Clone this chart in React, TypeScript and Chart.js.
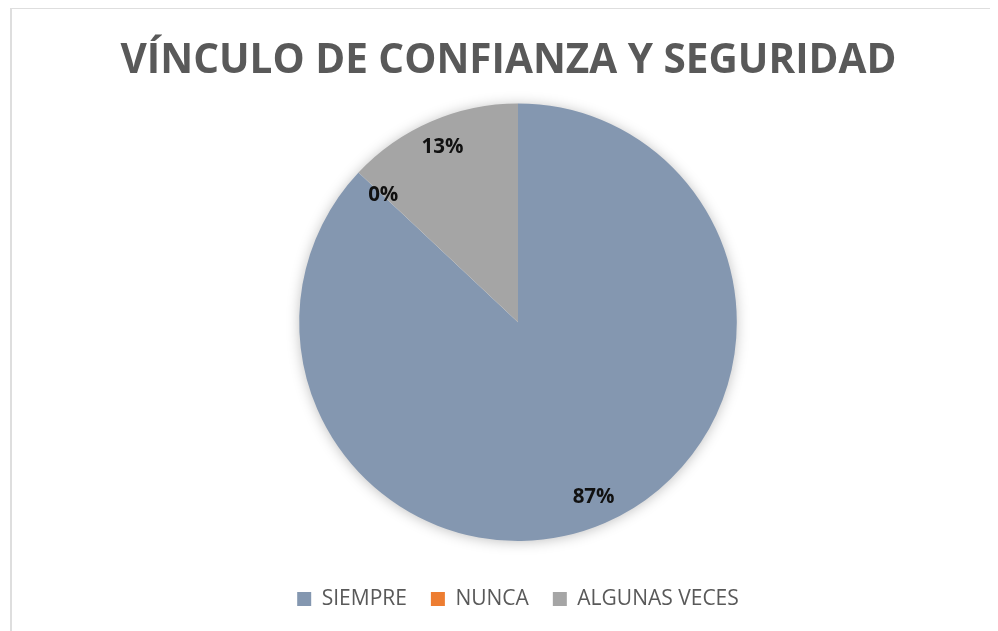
import React, { useEffect, useRef } from "react";
import { Chart, registerables } from "chart.js";

Chart.register(...registerables);

const TITLE = "VÍNCULO DE CONFIANZA Y SEGURIDAD";
const categories = ["SIEMPRE", "NUNCA", "ALGUNAS VECES"];
const values = [87, 0, 13];
const colors = ["#8497B0", "#ED7D31", "#A5A5A5"];

const shadowPlugin = {
  id: "pieShadow",
  beforeDatasetsDraw(chart: any) {
    const meta = chart.getDatasetMeta(0);
    const arc = meta.data[0];
    if (!arc) return;
    const { x, y, outerRadius } = arc.getProps(["x", "y", "outerRadius"], true);
    const ctx = chart.ctx;
    ctx.save();
    ctx.shadowColor = "rgba(0,0,0,0.28)";
    ctx.shadowBlur = 14;
    ctx.shadowOffsetX = 0;
    ctx.shadowOffsetY = 1;
    ctx.fillStyle = "#ffffff";
    ctx.beginPath();
    ctx.arc(x, y, outerRadius - 1, 0, Math.PI * 2);
    ctx.fill();
    ctx.restore();
  },
};

// Shift the title block so the title is centred on the whole chart area
const titleShiftPlugin = {
  id: "titleShift",
  afterLayout(chart: any) {
    const tb = chart.titleBlock;
    if (tb) {
      tb.left -= 9.5;
      tb.right -= 9.5;
    }
  },
};

const labelPlugin = {
  id: "pctLabels",
  afterDatasetsDraw(chart: any) {
    const meta = chart.getDatasetMeta(0);
    const data = chart.data.datasets[0].data as number[];
    const total = data.reduce((a, b) => a + b, 0);
    const ctx = chart.ctx;
    ctx.save();
    ctx.font = "bold 20.5px 'Open Sans'";
    ctx.fillStyle = "#111111";
    ctx.textAlign = "center";
    ctx.textBaseline = "middle";
    meta.data.forEach((arc: any, i: number) => {
      const { x, y, startAngle, endAngle, outerRadius } = arc.getProps(
        ["x", "y", "startAngle", "endAngle", "outerRadius"],
        true
      );
      const mid = (startAngle + endAngle) / 2;
      const f = data[i] === 0 ? 0.845 : 0.87;
      const px = x + Math.cos(mid) * outerRadius * f;
      const py = y + Math.sin(mid) * outerRadius * f;
      const pct = Math.round((data[i] / total) * 100) + "%";
      ctx.fillText(pct, px, py);
    });
    ctx.restore();
  },
};

export default function App() {
  const ref = useRef<HTMLCanvasElement>(null);
  useEffect(() => {
    if (!ref.current) return;
    const chart = new Chart(ref.current, {
      type: "pie",
      data: {
        labels: categories,
        datasets: [
          {
            data: values,
            backgroundColor: colors,
            borderWidth: 0,
          },
        ],
      },
      options: {
        animation: false,
        responsive: false,
        layout: { padding: { left: 26, right: 0, top: 0, bottom: 11.5 } },
        plugins: {
          title: {
            display: true,
            text: TITLE,
            color: "#595959",
            font: { family: "'Open Sans'", size: 40.5, weight: "bold" },
            padding: { top: 28, bottom: 17.8 },
          },
          subtitle: {
            display: true,
            text: " ",
            position: "bottom",
            weight: 500,
            font: { size: 1 },
            padding: { top: 11, bottom: 11.3 },
          },
          legend: {
            position: "bottom",
            labels: {
              color: "#595959",
              font: { family: "'Open Sans'", size: 21 },
              boxWidth: 14,
              boxHeight: 14,
              padding: 24,
            },
          },
          tooltip: { enabled: false },
        },
      } as any,
      plugins: [shadowPlugin, titleShiftPlugin, labelPlugin],
    });
    return () => chart.destroy();
  }, []);
  return (
    <div
      style={{
        marginLeft: 2,
        marginTop: -1,
        width: 986,
        height: 622,
        borderTop: "2px solid #dedede",
        borderLeft: "2px solid #dedede",
        background: "#ffffff",
      }}
    >
      <canvas ref={ref} width={986} height={622} style={{ display: "block" }} />
    </div>
  );
}
